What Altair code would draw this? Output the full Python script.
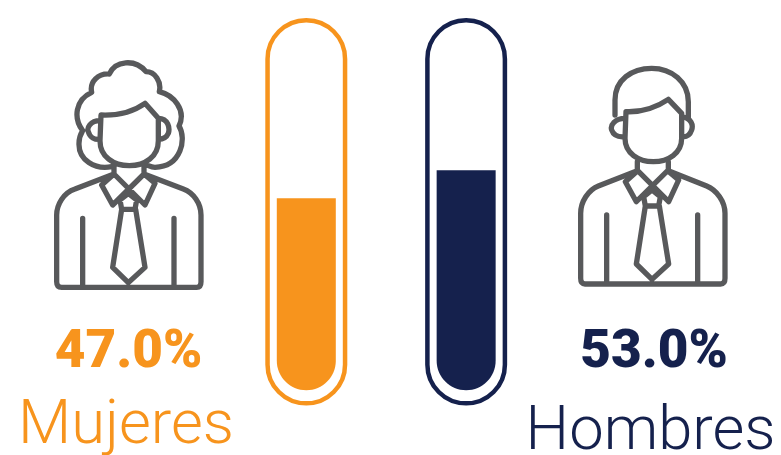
import altair as alt
import pandas as pd

categories = ["Mujeres", "Hombres"]
percentages = [47.0, 53.0]
percent_labels = ["47.0%", "53.0%"]
colours = ["#F7941D", "#15214D"]
fill_base = [5.86, 5.86]
tube_top = [85.17, 85.17]
tube_bottom = [3.06, 3.06]
GREY = "#58595B"

WOMAN = (
    "M215 350C165 360 115 330 117 280C117 265 122 252 128 242C100 205 105 150 155 127"
    "C148 95 175 70 208 72C225 32 285 25 318 65C345 65 365 95 358 125C400 135 440 180 417 228"
    "C440 265 425 350 345 352C338 352 332 350 325 347"
    "M183 195C230 197 280 185 315 160L355 205L355 272C355 320 315 347 268 347C220 347 180 320 180 272Z"
    "M180 212C150 212 140 235 145 245C150 262 165 270 180 268"
    "M355 205C385 205 390 235 385 250C380 262 370 268 355 268"
    "M222 345L222 372M312 345L312 372"
    "M222 372L105 417C70 428 50 465 50 495L50 695Q50 712 65 712L470 712Q483 712 483 695L483 495"
    "C483 460 460 428 430 417L312 372"
    "M185 405L222 372L315 465L345 400L312 372L218 465Z"
    "M240 450L265 430L290 450L285 478L245 478Z"
    "M245 478L218 652L265 698L315 652L287 478"
    "M128 505L128 712M402 505L402 712"
)
MAN = (
    "M165 195L165 150C165 90 215 55 275 55C335 55 385 95 385 155L385 205"
    "M198 185C245 187 285 175 325 148L365 190L365 265C365 310 325 335 280 335C235 335 195 310 195 265Z"
    "M195 205C165 205 150 225 155 240C160 255 175 262 195 260"
    "M365 200C395 205 400 225 395 240C390 255 380 262 365 260"
    "M232 335L232 362M325 335L325 362"
    "M232 362L115 408C85 420 62 455 62 490L62 685Q62 702 75 702L482 702Q495 702 495 685L495 490"
    "C495 455 470 420 440 408L325 362"
    "M196 395L233 362L326 455L356 390L323 362L229 455Z"
    "M251 440L276 420L301 440L296 468L256 468Z"
    "M256 468L229 642L276 688L326 642L298 468"
    "M140 495L140 702M413 495L413 702"
)

W, H = 765, 462
df = pd.DataFrame({
    "cat": categories, "pct": percentages, "label": percent_labels,
    "base": fill_base, "top": tube_top, "bottom": tube_bottom,
})

x = alt.X("cat:N", axis=None, sort=categories,
          scale=alt.Scale(type="point", domain=categories, range=[298.3, 458.15], padding=0))
yscale = alt.Scale(domain=[-11.22, 87.78], range=[H, 0], nice=False, zero=False)
color = alt.Color("cat:N", legend=None, scale=alt.Scale(domain=categories, range=colours))

tubes = alt.Chart(df).mark_bar(
    width=77.5, fillOpacity=0, strokeWidth=4.5, cornerRadius=38.7
).encode(
    x=x,
    y=alt.Y("top:Q", axis=None, scale=yscale),
    y2="bottom:Q",
    stroke=alt.Stroke("cat:N", legend=None, scale=alt.Scale(domain=categories, range=colours)),
)

fills = alt.Chart(df).mark_bar(
    width=59, cornerRadiusBottomLeft=29.5, cornerRadiusBottomRight=29.5
).encode(
    x=x,
    y=alt.Y("pct:Q", axis=None, scale=yscale),
    y2="base:Q",
    color=color,
)

def icon(path, px, py):
    return alt.Chart(pd.DataFrame({"k": [0]})).mark_point(
        shape=path, size=4 / 9, filled=False, stroke=GREY, strokeWidth=5.3,
        strokeCap="round", strokeJoin="round", opacity=1,
    ).encode(x=alt.value(px), y=alt.value(py))

def pct_text(i, px, py):
    return alt.Chart(df.iloc[[i]]).mark_text(
        font="Roboto", fontWeight=900, fontSize=53, align="center", baseline="alphabetic",
        color=colours[i],
    ).encode(x=alt.value(px), y=alt.value(py), text="label:N")

def name_text(i, px, py):
    return alt.Chart(df.iloc[[i]]).mark_text(
        font="Roboto", fontWeight=300, fontSize=61.5, align="center", baseline="alphabetic",
        color=colours[i],
    ).encode(x=alt.value(px), y=alt.value(py), text="cat:N")

chart = alt.layer(
    tubes, fills,
    icon(WOMAN, 32, 42), icon(MAN, 552, 42),
    pct_text(0, 120.5, 358.5), pct_text(1, 646, 358.5),
    name_text(0, 118, 434.5), name_text(1, 642.5, 441),
).resolve_scale(color="independent", stroke="independent").properties(
    width=W, height=H, padding=0,
    autosize=alt.AutoSizeParams(type="none"),
).configure_view(stroke=None)

chart.save("out.html", embed_options={"renderer": "svg", "actions": False})
